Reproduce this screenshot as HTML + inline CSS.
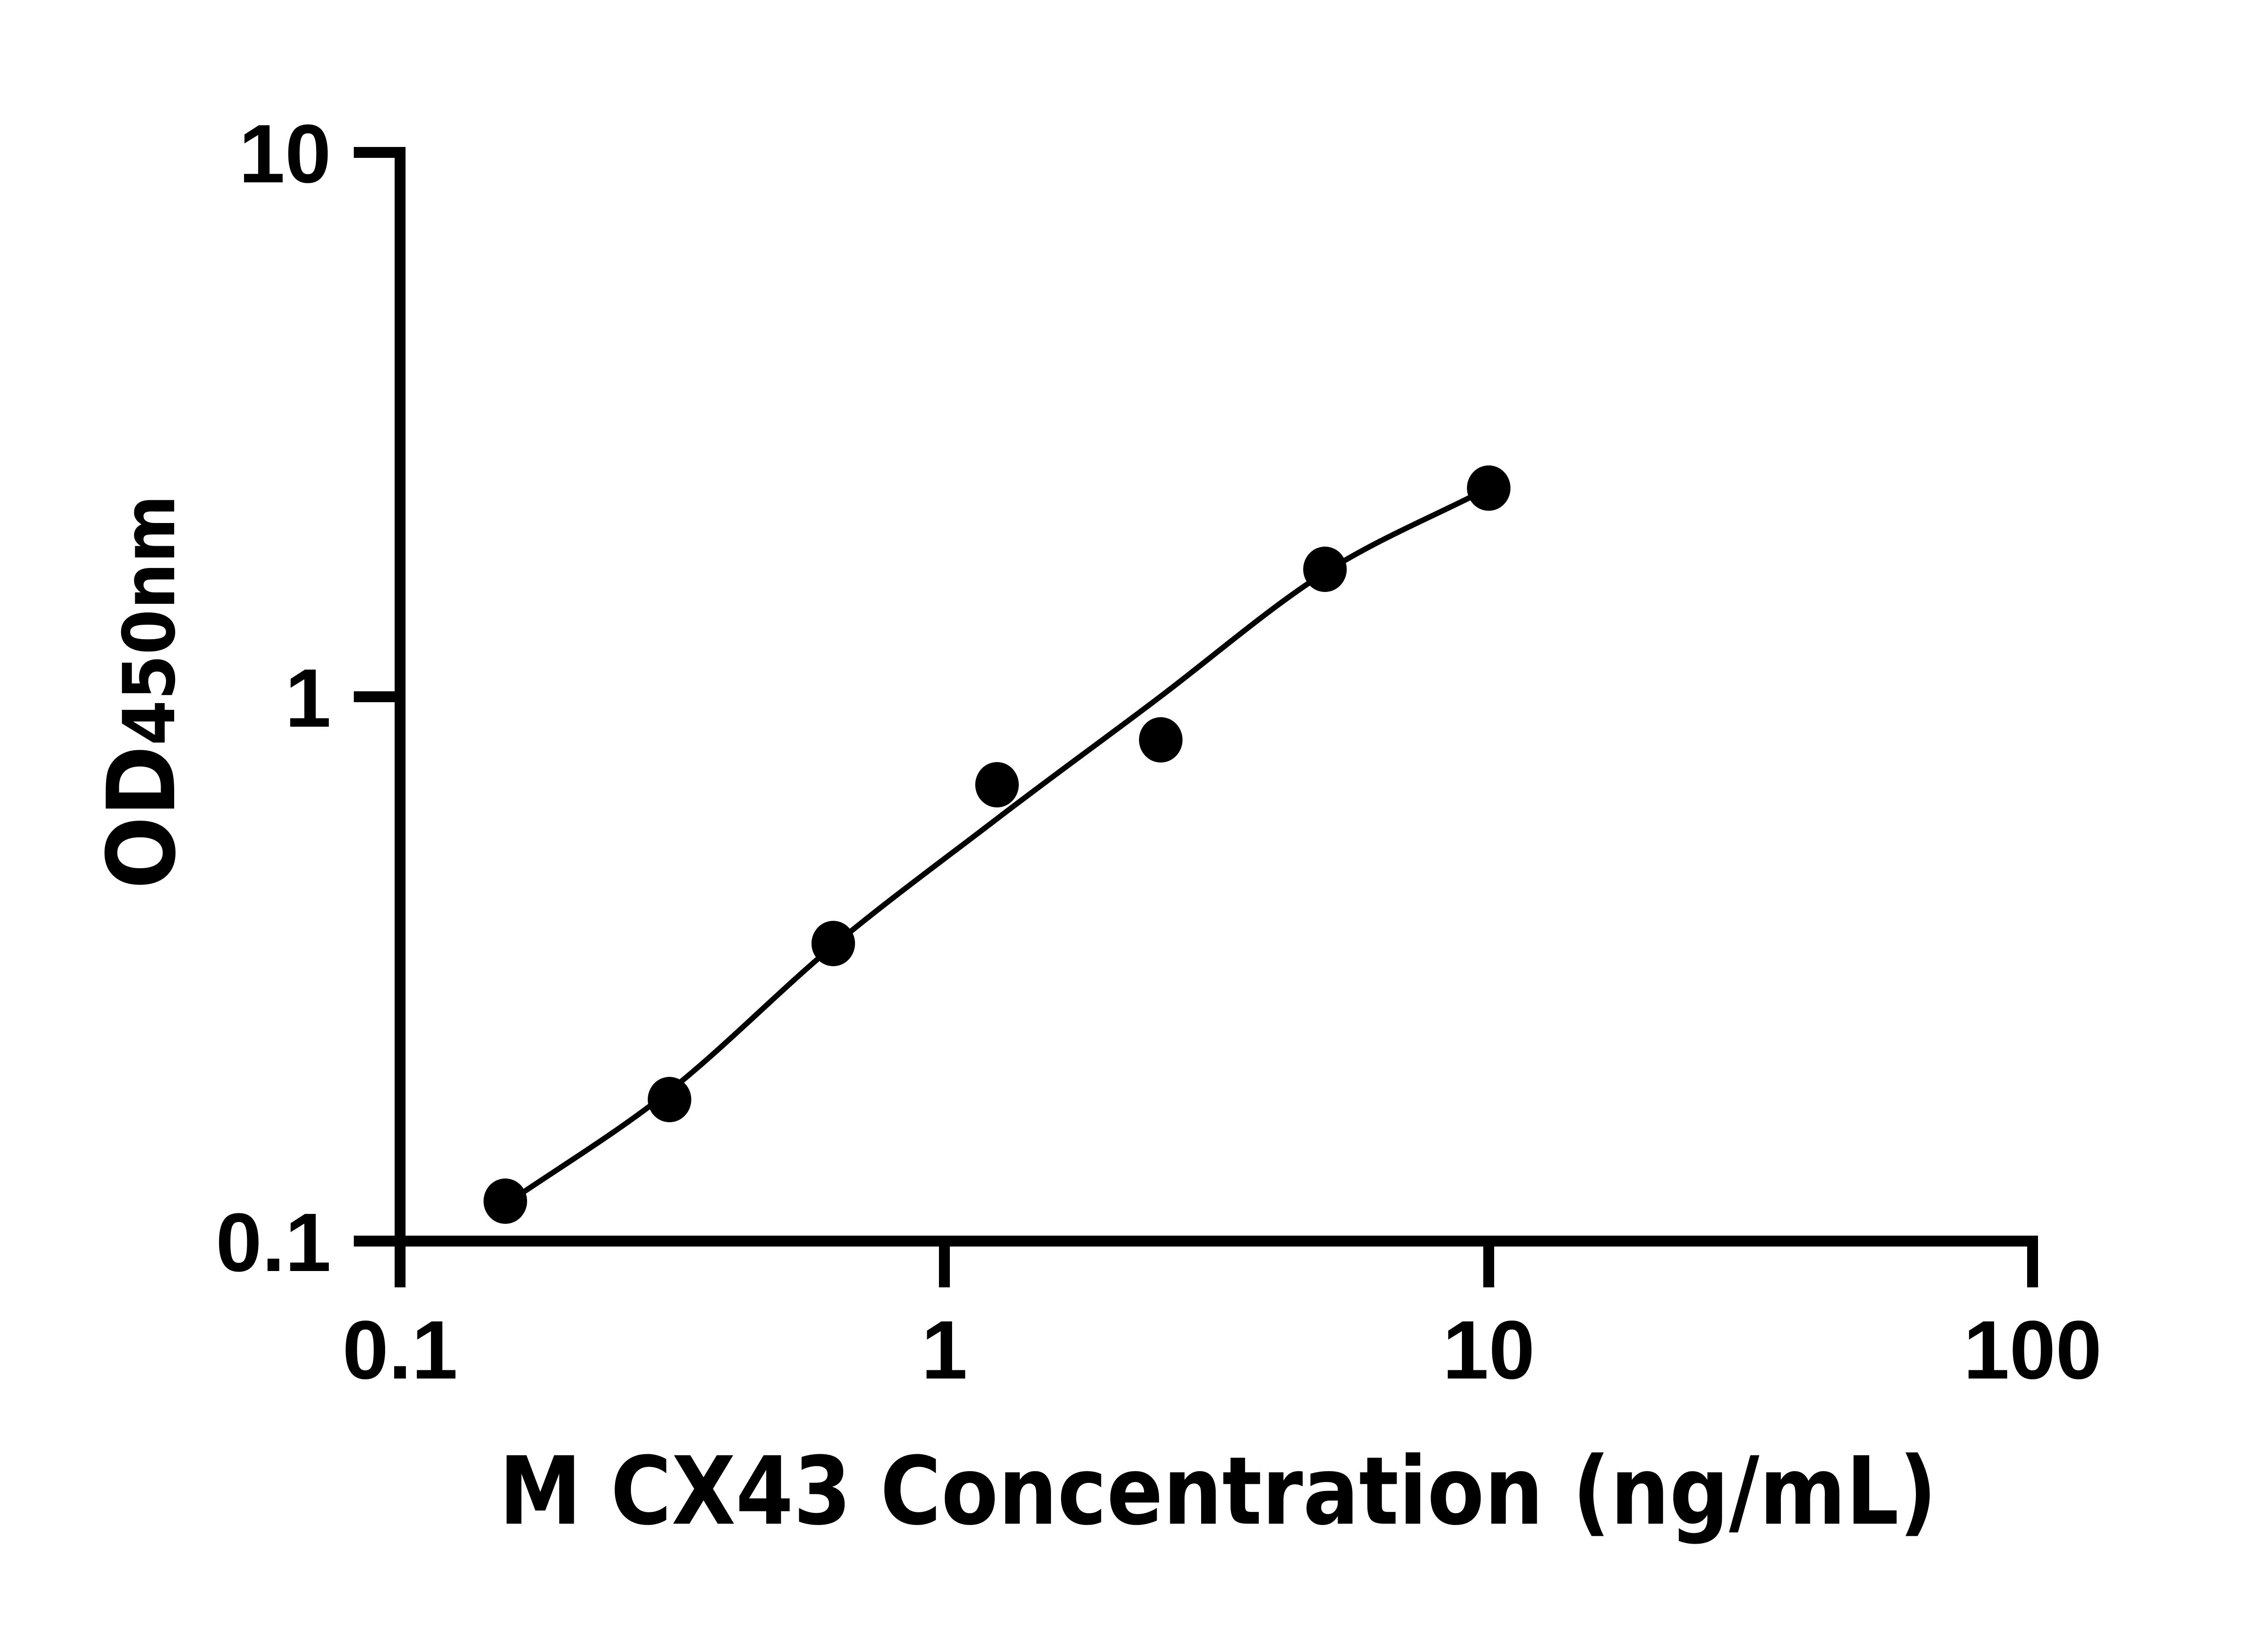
<!DOCTYPE html>
<html><head><meta charset="utf-8"><style>html,body{margin:0;padding:0;background:#fff}svg{display:block}
.tk{font-family:"Liberation Sans",Arial,sans-serif;font-weight:bold;font-size:183px}
.tt{font-family:"DejaVu Sans",sans-serif;font-weight:bold}</style></head>
<body>
<svg width="5034" height="3600" viewBox="0 0 5034 3600" xmlns="http://www.w3.org/2000/svg">
<rect width="5034" height="3600" fill="#fff"/>
<g fill="#000">
<rect x="870" y="324" width="24" height="2424"/>
<rect x="780" y="324" width="100" height="24"/>
<rect x="780" y="1524" width="100" height="24"/>
<rect x="780" y="2724" width="100" height="24"/>
<rect x="870" y="2724" width="3623" height="24"/>
<rect x="870" y="2736" width="24" height="102"/>
<rect x="2070" y="2736" width="24" height="102"/>
<rect x="3270" y="2736" width="24" height="102"/>
<rect x="4469" y="2736" width="24" height="102"/>
</g>
<g class="tk" fill="#000">
<text x="730" y="402" text-anchor="end">10</text>
<text x="730" y="1602" text-anchor="end">1</text>
<text x="730" y="2802" text-anchor="end">0.1</text>
<text x="882" y="3039" text-anchor="middle">0.1</text>
<text x="2082" y="3039" text-anchor="middle">1</text>
<text x="3282" y="3039" text-anchor="middle">10</text>
<text x="4481" y="3039" text-anchor="middle">100</text>
</g>
<path d="M1114,2655 C1235,2572 1356,2500 1476,2405 C1596,2310 1717,2185 1837,2085 C1957,1985 2078,1897 2198,1805 C2318,1713 2439,1626 2559,1535 C2679,1444 2801,1338 2921,1262 C3041,1186 3162,1138 3282,1076" fill="none" stroke="#000" stroke-width="12"/>
<g fill="#000">
<ellipse cx="1114" cy="2648" rx="48" ry="50"/>
<ellipse cx="1476" cy="2424" rx="48" ry="50"/>
<ellipse cx="1837" cy="2080" rx="48" ry="50"/>
<ellipse cx="2198" cy="1730" rx="48" ry="50"/>
<ellipse cx="2559" cy="1631" rx="48" ry="50"/>
<ellipse cx="2921" cy="1255" rx="48" ry="50"/>
<ellipse cx="3282" cy="1076" rx="48" ry="50"/>
</g>
<text class="tt" x="1100" y="3359" font-size="207" textLength="3170" lengthAdjust="spacingAndGlyphs">M CX43 Concentration (ng/mL)</text>
<text class="tt" transform="translate(384,1960) rotate(-90)" textLength="869" lengthAdjust="spacingAndGlyphs"><tspan font-size="207">OD</tspan><tspan font-size="158">450nm</tspan></text>
</svg>
</body></html>
